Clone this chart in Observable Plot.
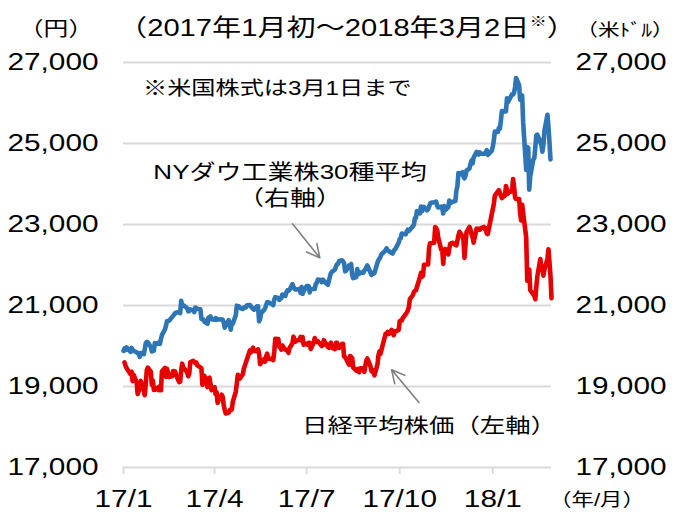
<!DOCTYPE html>
<html><head><meta charset="utf-8">
<script src="https://cdn.jsdelivr.net/npm/d3@7"></script>
<script src="https://cdn.jsdelivr.net/npm/@observablehq/plot@0.6"></script>
<style>
html,body{margin:0;padding:0;background:#fff;}
#chart{position:relative;width:675px;height:515px;overflow:hidden;background:#fff;}
</style></head><body><div id="chart"></div>
<script>
// 日経平均株価（円）
const nikkei = [
["2017-01-04",19594],["2017-01-05",19520],["2017-01-06",19454],["2017-01-10",19301],["2017-01-11",19364],["2017-01-12",19134],["2017-01-13",19287],["2017-01-16",19095],["2017-01-17",18813],["2017-01-18",18894],["2017-01-19",19072],["2017-01-20",19137],["2017-01-23",18891],["2017-01-24",18787],["2017-01-25",19057],["2017-01-26",19402],["2017-01-27",19467],["2017-01-30",19368],["2017-01-31",19041],
["2017-02-01",19148],["2017-02-02",18914],["2017-02-03",18918],["2017-02-06",18976],["2017-02-07",18910],["2017-02-08",19007],["2017-02-09",18907],["2017-02-10",19378],["2017-02-13",19459],["2017-02-14",19238],["2017-02-15",19437],["2017-02-16",19347],["2017-02-17",19234],["2017-02-20",19251],["2017-02-21",19381],["2017-02-22",19379],["2017-02-23",19371],["2017-02-24",19283],["2017-02-27",19107],["2017-02-28",19119],
["2017-03-01",19393],["2017-03-02",19564],["2017-03-03",19469],["2017-03-06",19379],["2017-03-07",19344],["2017-03-08",19254],["2017-03-09",19318],["2017-03-10",19604],["2017-03-13",19633],["2017-03-14",19609],["2017-03-15",19577],["2017-03-16",19590],["2017-03-17",19521],["2017-03-21",19455],["2017-03-22",19041],["2017-03-23",19085],["2017-03-24",19262],["2017-03-27",18985],["2017-03-28",19202],["2017-03-29",19217],["2017-03-30",19063],["2017-03-31",18909],
["2017-04-03",18983],["2017-04-04",18810],["2017-04-05",18861],["2017-04-06",18597],["2017-04-07",18664],["2017-04-10",18797],["2017-04-11",18747],["2017-04-12",18552],["2017-04-13",18426],["2017-04-14",18335],["2017-04-17",18355],["2017-04-18",18418],["2017-04-19",18432],["2017-04-20",18430],["2017-04-21",18620],["2017-04-24",18875],["2017-04-25",19079],["2017-04-26",19289],["2017-04-27",19251],["2017-04-28",19196],
["2017-05-01",19310],["2017-05-02",19445],["2017-05-08",19895],["2017-05-09",19843],["2017-05-10",19900],["2017-05-11",19961],["2017-05-12",19883],["2017-05-15",19869],["2017-05-16",19919],["2017-05-17",19814],["2017-05-18",19553],["2017-05-19",19590],["2017-05-22",19678],["2017-05-23",19613],["2017-05-24",19742],["2017-05-25",19813],["2017-05-26",19686],["2017-05-29",19682],["2017-05-30",19677],["2017-05-31",19650],
["2017-06-01",19860],["2017-06-02",20177],["2017-06-05",20170],["2017-06-06",19979],["2017-06-07",19984],["2017-06-08",19909],["2017-06-09",20013],["2017-06-12",19908],["2017-06-13",19898],["2017-06-14",19883],["2017-06-15",19831],["2017-06-16",19943],["2017-06-19",20067],["2017-06-20",20230],["2017-06-21",20138],["2017-06-22",20110],["2017-06-23",20132],["2017-06-26",20153],["2017-06-27",20225],["2017-06-28",20130],["2017-06-29",20220],["2017-06-30",20033],
["2017-07-03",20055],["2017-07-04",20032],["2017-07-05",20081],["2017-07-06",20081],["2017-07-07",19929],["2017-07-10",20080],["2017-07-11",20195],["2017-07-12",20098],["2017-07-13",20099],["2017-07-14",20118],["2017-07-18",20000],["2017-07-19",20020],["2017-07-20",20144],["2017-07-21",20099],["2017-07-24",19975],["2017-07-25",19955],["2017-07-26",20050],["2017-07-27",20079],["2017-07-28",19959],["2017-07-31",19925],
["2017-08-01",20080],["2017-08-02",20080],["2017-08-03",20029],["2017-08-04",19952],["2017-08-07",20055],["2017-08-08",20055],["2017-08-09",19738],["2017-08-10",19729],["2017-08-14",19537],["2017-08-15",19753],["2017-08-16",19729],["2017-08-17",19702],["2017-08-18",19470],["2017-08-21",19393],["2017-08-22",19383],["2017-08-23",19434],["2017-08-24",19353],["2017-08-25",19452],["2017-08-28",19449],["2017-08-29",19362],["2017-08-30",19506],["2017-08-31",19646],
["2017-09-01",19691],["2017-09-04",19508],["2017-09-05",19385],["2017-09-06",19357],["2017-09-07",19396],["2017-09-08",19274],["2017-09-11",19545],["2017-09-12",19776],["2017-09-13",19865],["2017-09-14",19807],["2017-09-15",19909],["2017-09-19",20299],["2017-09-20",20310],["2017-09-21",20347],["2017-09-22",20296],["2017-09-25",20397],["2017-09-26",20330],["2017-09-27",20267],["2017-09-28",20363],["2017-09-29",20356],
["2017-10-02",20400],["2017-10-03",20614],["2017-10-04",20626],["2017-10-05",20628],["2017-10-06",20690],["2017-10-10",20823],["2017-10-11",20881],["2017-10-12",20954],["2017-10-13",21155],["2017-10-16",21255],["2017-10-17",21336],["2017-10-18",21363],["2017-10-19",21372],["2017-10-20",21457],["2017-10-23",21696],["2017-10-24",21805],["2017-10-25",21707],["2017-10-26",21739],["2017-10-27",22008],["2017-10-30",22011],["2017-10-31",22011],
["2017-11-01",22420],["2017-11-02",22539],["2017-11-06",22548],["2017-11-07",22937],["2017-11-08",22913],["2017-11-09",22868],["2017-11-10",22681],["2017-11-13",22380],["2017-11-14",22380],["2017-11-15",22028],["2017-11-16",22351],["2017-11-17",22397],["2017-11-20",22261],["2017-11-21",22416],["2017-11-22",22523],["2017-11-24",22550],["2017-11-27",22495],["2017-11-28",22486],["2017-11-29",22597],["2017-11-30",22725],
["2017-12-01",22819],["2017-12-04",22707],["2017-12-05",22622],["2017-12-06",22177],["2017-12-07",22498],["2017-12-08",22811],["2017-12-11",22938],["2017-12-12",22866],["2017-12-13",22758],["2017-12-14",22694],["2017-12-15",22553],["2017-12-18",22901],["2017-12-19",22868],["2017-12-20",22891],["2017-12-21",22866],["2017-12-22",22903],["2017-12-25",22939],["2017-12-26",22892],["2017-12-27",22911],["2017-12-28",22783],["2017-12-29",22765],
["2018-01-04",23506],["2018-01-05",23714],["2018-01-09",23850],["2018-01-10",23788],["2018-01-11",23710],["2018-01-12",23653],["2018-01-15",23714],["2018-01-16",23951],["2018-01-17",23868],["2018-01-18",23763],["2018-01-19",23808],["2018-01-22",23816],["2018-01-23",24124],["2018-01-24",23940],["2018-01-25",23669],["2018-01-26",23631],["2018-01-29",23629],["2018-01-30",23291],["2018-01-31",23098],
["2018-02-01",23486],["2018-02-02",23274],["2018-02-05",22682],["2018-02-06",21610],["2018-02-07",21645],["2018-02-08",21891],["2018-02-09",21382],["2018-02-13",21245],["2018-02-14",21154],["2018-02-15",21464],["2018-02-16",21720],["2018-02-19",22149],["2018-02-20",21925],["2018-02-21",21970],["2018-02-22",21736],["2018-02-23",21892],["2018-02-26",22153],["2018-02-27",22389],["2018-02-28",22068],
["2018-03-01",21724],["2018-03-02",21181]
];
// NYダウ工業株30種平均（米ドル）
const dow = [
["2017-01-03",19882],["2017-01-04",19942],["2017-01-05",19899],["2017-01-06",19964],["2017-01-09",19887],["2017-01-10",19855],["2017-01-11",19954],["2017-01-12",19891],["2017-01-13",19886],["2017-01-17",19826],["2017-01-18",19804],["2017-01-19",19732],["2017-01-20",19827],["2017-01-23",19799],["2017-01-24",19913],["2017-01-25",20069],["2017-01-26",20101],["2017-01-27",20094],["2017-01-30",19971],["2017-01-31",19864],
["2017-02-01",19891],["2017-02-02",19885],["2017-02-03",20071],["2017-02-06",20052],["2017-02-07",20090],["2017-02-08",20054],["2017-02-09",20173],["2017-02-10",20269],["2017-02-13",20413],["2017-02-14",20504],["2017-02-15",20611],["2017-02-16",20620],["2017-02-17",20625],["2017-02-21",20744],["2017-02-22",20776],["2017-02-23",20811],["2017-02-24",20822],["2017-02-27",20838],["2017-02-28",20812],
["2017-03-01",21116],["2017-03-02",21003],["2017-03-03",21006],["2017-03-06",20955],["2017-03-07",20925],["2017-03-08",20856],["2017-03-09",20858],["2017-03-10",20903],["2017-03-13",20882],["2017-03-14",20837],["2017-03-15",20950],["2017-03-16",20935],["2017-03-17",20915],["2017-03-20",20906],["2017-03-21",20669],["2017-03-22",20662],["2017-03-23",20656],["2017-03-24",20597],["2017-03-27",20551],["2017-03-28",20702],["2017-03-29",20660],["2017-03-30",20729],["2017-03-31",20663],
["2017-04-03",20651],["2017-04-04",20690],["2017-04-05",20648],["2017-04-06",20663],["2017-04-07",20656],["2017-04-10",20658],["2017-04-11",20651],["2017-04-12",20592],["2017-04-13",20453],["2017-04-17",20637],["2017-04-18",20523],["2017-04-19",20404],["2017-04-20",20578],["2017-04-21",20548],["2017-04-24",20763],["2017-04-25",20996],["2017-04-26",20976],["2017-04-27",20981],["2017-04-28",20941],
["2017-05-01",20913],["2017-05-02",20950],["2017-05-03",20958],["2017-05-04",20951],["2017-05-05",21007],["2017-05-08",21013],["2017-05-09",20975],["2017-05-10",20943],["2017-05-11",20919],["2017-05-12",20897],["2017-05-15",20982],["2017-05-16",20980],["2017-05-17",20607],["2017-05-18",20663],["2017-05-19",20805],["2017-05-22",20895],["2017-05-23",20937],["2017-05-24",21012],["2017-05-25",21083],["2017-05-26",21080],["2017-05-30",21029],["2017-05-31",21009],
["2017-06-01",21144],["2017-06-02",21206],["2017-06-05",21184],["2017-06-06",21137],["2017-06-07",21173],["2017-06-08",21182],["2017-06-09",21272],["2017-06-12",21236],["2017-06-13",21328],["2017-06-14",21375],["2017-06-15",21360],["2017-06-16",21384],["2017-06-19",21528],["2017-06-20",21467],["2017-06-21",21411],["2017-06-22",21397],["2017-06-23",21395],["2017-06-26",21409],["2017-06-27",21311],["2017-06-28",21455],["2017-06-29",21288],["2017-06-30",21350],
["2017-07-03",21479],["2017-07-05",21479],["2017-07-06",21321],["2017-07-07",21414],["2017-07-10",21409],["2017-07-11",21409],["2017-07-12",21532],["2017-07-13",21553],["2017-07-14",21638],["2017-07-17",21630],["2017-07-18",21575],["2017-07-19",21641],["2017-07-20",21612],["2017-07-21",21580],["2017-07-24",21513],["2017-07-25",21613],["2017-07-26",21711],["2017-07-27",21797],["2017-07-28",21830],["2017-07-31",21891],
["2017-08-01",21964],["2017-08-02",22016],["2017-08-03",22026],["2017-08-04",22093],["2017-08-07",22118],["2017-08-08",22085],["2017-08-09",22049],["2017-08-10",21844],["2017-08-11",21858],["2017-08-14",21993],["2017-08-15",21998],["2017-08-16",22025],["2017-08-17",21750],["2017-08-18",21675],["2017-08-21",21704],["2017-08-22",21899],["2017-08-23",21813],["2017-08-24",21783],["2017-08-25",21814],["2017-08-28",21809],["2017-08-29",21865],["2017-08-30",21892],["2017-08-31",21948],
["2017-09-01",21988],["2017-09-05",21754],["2017-09-06",21807],["2017-09-07",21785],["2017-09-08",21798],["2017-09-11",22057],["2017-09-12",22119],["2017-09-13",22158],["2017-09-14",22204],["2017-09-15",22268],["2017-09-18",22332],["2017-09-19",22370],["2017-09-20",22412],["2017-09-21",22359],["2017-09-22",22350],["2017-09-25",22296],["2017-09-26",22284],["2017-09-27",22341],["2017-09-28",22381],["2017-09-29",22405],
["2017-10-02",22557],["2017-10-03",22642],["2017-10-04",22661],["2017-10-05",22775],["2017-10-06",22774],["2017-10-09",22761],["2017-10-10",22831],["2017-10-11",22873],["2017-10-12",22842],["2017-10-13",22872],["2017-10-16",22957],["2017-10-17",22997],["2017-10-18",23158],["2017-10-19",23163],["2017-10-20",23329],["2017-10-23",23274],["2017-10-24",23441],["2017-10-25",23330],["2017-10-26",23401],["2017-10-27",23434],["2017-10-30",23349],["2017-10-31",23377],
["2017-11-01",23436],["2017-11-02",23517],["2017-11-03",23539],["2017-11-06",23549],["2017-11-07",23557],["2017-11-08",23564],["2017-11-09",23462],["2017-11-10",23422],["2017-11-13",23440],["2017-11-14",23410],["2017-11-15",23272],["2017-11-16",23458],["2017-11-17",23358],["2017-11-20",23431],["2017-11-21",23591],["2017-11-22",23526],["2017-11-24",23558],["2017-11-27",23580],["2017-11-28",23837],["2017-11-29",23940],["2017-11-30",24272],
["2017-12-01",24232],["2017-12-04",24290],["2017-12-05",24181],["2017-12-06",24141],["2017-12-07",24212],["2017-12-08",24329],["2017-12-11",24387],["2017-12-12",24504],["2017-12-13",24585],["2017-12-14",24509],["2017-12-15",24652],["2017-12-18",24792],["2017-12-19",24755],["2017-12-20",24727],["2017-12-21",24782],["2017-12-22",24754],["2017-12-26",24746],["2017-12-27",24775],["2017-12-28",24838],["2017-12-29",24719],
["2018-01-02",24824],["2018-01-03",24922],["2018-01-04",25075],["2018-01-05",25296],["2018-01-08",25283],["2018-01-09",25386],["2018-01-10",25370],["2018-01-11",25575],["2018-01-12",25803],["2018-01-16",25793],["2018-01-17",26116],["2018-01-18",26018],["2018-01-19",26072],["2018-01-22",26215],["2018-01-23",26211],["2018-01-24",26253],["2018-01-25",26393],["2018-01-26",26617],["2018-01-29",26440],["2018-01-30",26077],["2018-01-31",26149],
["2018-02-01",26187],["2018-02-02",25521],["2018-02-05",24346],["2018-02-06",24913],["2018-02-07",24893],["2018-02-08",23860],["2018-02-09",24191],["2018-02-12",24601],["2018-02-13",24640],["2018-02-14",24893],["2018-02-15",25201],["2018-02-16",25219],["2018-02-20",24965],["2018-02-21",24798],["2018-02-22",24963],["2018-02-23",25310],["2018-02-26",25709],["2018-02-27",25411],["2018-02-28",25029],
["2018-03-01",24609]
];
const yTicks = [17000, 19000, 21000, 23000, 25000, 27000];
const xTicks = ["2017-01-03", "2017-04-03", "2017-07-03", "2017-10-03", "2018-01-03"];
const xDomain = ["2017-01-03", "2018-03-02"];
// annotation arrows (tail -> head), in data units
const arrows = [
  {x1: "2017-06-19", y1: 23017, x2: "2017-07-16", y2: 22178},
  {x1: "2017-10-22", y1: 18605, x2: "2017-09-25", y2: 19412}
];
const colors = {dow: "#2e75b6", nikkei: "#e60000", grid: "#d9d9d9", arrow: "#808080"};

const parse = d3.utcParse("%Y-%m-%d");
const nk = nikkei.map(([d, v]) => ({date: parse(d), value: v}));
const dj = dow.map(([d, v]) => ({date: parse(d), value: v}));
const arr = arrows.map(a => ({...a, x1: parse(a.x1), x2: parse(a.x2)}));
const S = 1.24; // horizontal stretch of the reference typography
const LATIN = "'Liberation Sans', Arial, 'Noto Sans CJK JP', sans-serif";

const chart = Plot.plot({
  width: 675, height: 515,
  marginTop: 62, marginBottom: 48, marginLeft: 123, marginRight: 124,
  style: {fontFamily: LATIN, fontSize: "24px", color: "#000", background: "#fff", overflow: "visible"},
  x: {type: "utc", domain: xDomain.map(parse)},
  y: {domain: [17000, 27000]},
  marks: [
    Plot.gridY(yTicks, {stroke: colors.grid, strokeOpacity: 1, strokeWidth: 1.8}),
    Plot.axisY(yTicks, {anchor: "left", tickSize: 0, tickPadding: 25, tickFormat: d3.format(","), label: null, fontSize: 24, fill: "#000"}),
    Plot.axisY(yTicks, {anchor: "right", tickSize: 0, tickPadding: 24, tickFormat: d3.format(","), label: null, fontSize: 24, fill: "#000"}),
    Plot.axisX(xTicks.map(parse), {tickSize: 7, tickPadding: 15, stroke: colors.grid, strokeWidth: 1.8, strokeOpacity: 1, fill: "#000", tickFormat: d3.utcFormat("%y/%-m"), label: null, fontSize: 24}),
    Plot.line(dj, {x: "date", y: "value", stroke: colors.dow, strokeWidth: 4.6, strokeLinejoin: "round", strokeLinecap: "round"}),
    Plot.line(nk, {x: "date", y: "value", stroke: colors.nikkei, strokeWidth: 4.6, strokeLinejoin: "round", strokeLinecap: "round"}),
    Plot.arrow(arr, {x1: "x1", y1: "y1", x2: "x2", y2: "y2", stroke: colors.arrow, strokeWidth: 1.6, headLength: 16, headAngle: 55})
  ]
});

const svg = d3.select(chart);
svg.selectAll("g[aria-label$='tick label'] text").each(function () {
  const t = this.getAttribute("transform") || "";
  this.setAttribute("transform", t + ` scale(${S},1)`);
});

function addText(str, x, y, size, anchor) {
  return svg.append("text")
    .attr("transform", `translate(${x},${y}) scale(${S},1)`)
    .attr("text-anchor", anchor)
    .attr("font-family", LATIN)
    .attr("font-size", size)
    .attr("fill", "#000")
    .text(str);
}
addText("（円）", 56, 36, 20, "middle");
addText("（米ﾄﾞﾙ）", 625, 36, 17.5, "middle");
const sub = addText("（2017年1月初～2018年3月2日", 347, 36, 23.5, "middle");
sub.append("tspan").attr("font-size", 14).attr("dy", -10).text("※");
sub.append("tspan").attr("dy", 10).text("）");
addText("※米国株式は3月1日まで", 143, 95, 19.5, "start");
addText("NYダウ工業株30種平均", 290, 179, 21, "middle");
addText("（右軸）", 290, 205, 21, "middle");
addText("日経平均株価（左軸）", 302, 433, 20.5, "start");
addText("（年/月）", 597, 506, 18, "middle");

document.getElementById("chart").appendChild(chart);
</script></body></html>
